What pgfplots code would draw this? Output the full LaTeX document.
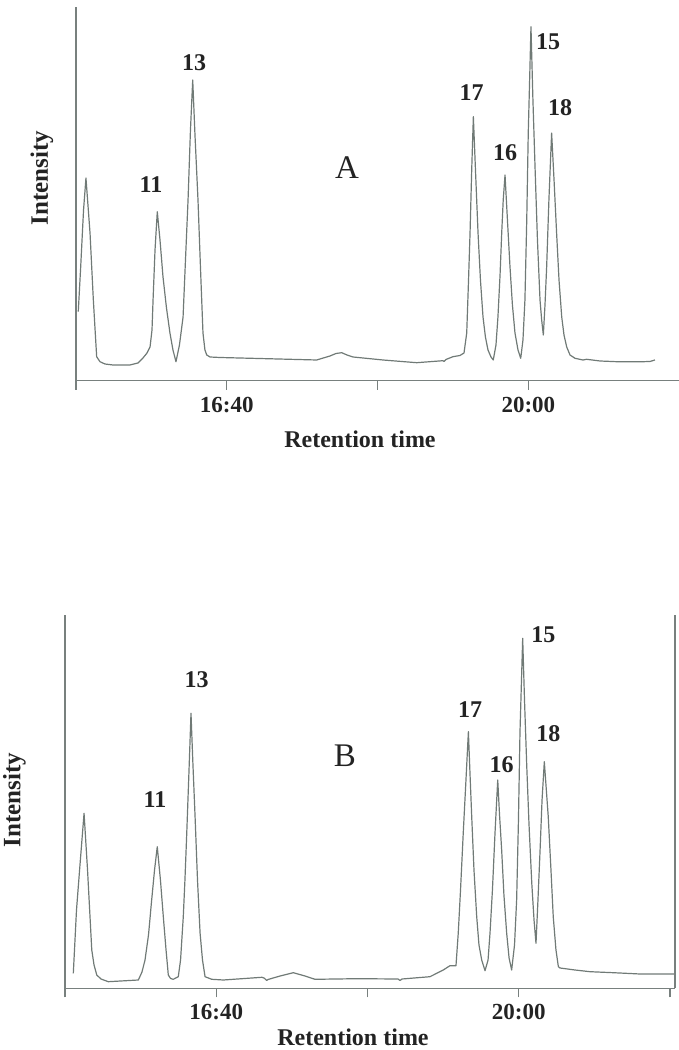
\documentclass[border=0pt]{standalone}
\usepackage{pgfplots}
\pgfplotsset{compat=1.18}
\usepackage{fontspec}
\setmainfont{Liberation Serif}
\definecolor{trace}{RGB}{112,122,118}
\definecolor{axcol}{RGB}{120,128,126}
\definecolor{txt}{RGB}{35,35,35}
\newcommand{\peakfont}{\bfseries\fontsize{12}{14}\selectfont}
\pgfplotsset{
  chrom/.style={
    scale only axis, anchor=south west,
    axis x line=bottom, axis y line=left,
    axis line style={-, draw=axcol, line width=0.6pt},
    ytick=\empty,
    tick align=outside, major tick length=4.5pt,
    every tick/.style={draw=axcol, line width=0.6pt},
    xtick={900,1000,1100,1200,1300},
    xticklabels={,16:40,,20:00,},
    xticklabel style={font=\bfseries\fontsize{11.5}{13}\selectfont, text=txt},
    clip=false,
  }
}
\begin{document}
\begin{tikzpicture}
\path[use as bounding box] (0,0) rectangle (339.5pt,525pt);
% ---------------- Panel A
\begin{axis}[chrom, at={(38pt,334.65pt)}, width=301.6pt, height=186.85pt,
  xmin=900, xmax=1300, ymin=0, ymax=373.7]
\addplot[trace, line width=0.6pt, line join=round] coordinates {
(901.5,69.0)(903.0,110.7)(905.0,170.7)(906.6,202.7)(909.3,147.7)(911.5,80.7)
(913.7,24.0)(915.9,19.0)(919.2,16.7)(924.5,15.7)(935.8,15.7)(941.1,17.7)
(944.4,22.7)(947.1,27.7)(949.1,33.7)(950.4,50.7)(951.1,80.7)(952.4,130.7)
(953.9,169.0)(955.7,140.7)(957.7,103.7)(960.0,72.7)(962.3,47.7)(964.3,30.7)
(966.3,19.0)(968.6,35.7)(971.0,63.7)(972.6,120.7)(974.3,180.7)(975.9,250.7)
(977.4,300.7)(978.9,245.7)(980.9,180.7)(982.6,110.7)(984.2,47.7)(985.5,30.7)
(986.7,25.7)(988.9,23.7)(995.5,23.2)(1026.5,22.0)(1059.6,20.7)(1068.4,24.7)
(1072.4,27.2)(1076.2,28.0)(1079.7,25.7)(1083.7,23.7)(1103.6,20.7)(1125.9,18.0)
(1143.4,20.0)(1144.0,19.2)(1145.3,21.2)(1150.0,24.0)(1154.6,25.2)(1157.3,27.7)
(1159.1,47.7)(1160.3,100.7)(1161.3,147.7)(1162.4,210.7)(1163.5,264.0)
(1164.9,210.7)(1166.6,147.7)(1168.2,100.7)(1169.9,63.7)(1171.5,43.7)
(1173.2,30.7)(1175.2,23.7)(1176.7,20.7)(1178.5,35.7)(1179.8,63.7)(1181.2,105.7)
(1182.3,147.7)(1183.3,180.7)(1184.5,205.7)(1186.1,160.7)(1187.8,113.7)
(1189.4,75.7)(1191.1,47.7)(1193.1,30.7)(1194.9,22.4)(1196.4,40.7)(1197.7,80.7)
(1198.9,160.7)(1199.9,247.7)(1200.9,305.7)(1201.7,354.0)(1203.0,280.7)
(1204.4,213.7)(1206.0,140.7)(1207.7,80.7)(1208.8,60.7)(1209.9,45.7)
(1211.0,75.7)(1212.1,113.7)(1213.6,180.7)(1215.4,247.7)(1217.0,200.7)
(1218.7,147.7)(1220.3,100.7)(1222.1,63.7)(1223.6,45.7)(1225.4,33.7)
(1227.6,25.7)(1230.9,22.4)(1236.2,20.7)(1238.6,21.4)(1247.5,19.7)
(1258.5,19.0)(1276.0,19.0)(1280.6,19.2)(1283.9,20.7)
};
\end{axis}
% ---------------- Panel B
\begin{axis}[chrom, at={(32.5pt,30.85pt)}, width=305pt, height=186.65pt,
  xmin=900, xmax=1303.3, ymin=0, ymax=373.3]
\addplot[trace, line width=0.6pt, line join=round] coordinates {
(905.5,15.0)(907.6,78.3)(909.9,123.3)(912.6,175.0)(914.9,118.3)(917.7,38.3)
(919.2,23.3)(921.0,13.3)(923.8,9.3)(928.6,6.6)(948.5,8.3)(950.9,16.3)
(952.9,28.3)(955.2,53.3)(957.3,88.3)(959.2,118.3)(961.0,141.6)(963.1,108.3)
(965.0,71.6)(966.8,38.3)(968.3,13.3)(969.8,9.8)(971.6,9.0)(974.9,11.6)
(976.4,28.3)(978.2,71.6)(979.3,108.3)(980.5,155.3)(982.0,218.3)(983.3,275.0)
(984.6,223.3)(986.0,171.6)(987.6,108.3)(989.3,55.3)(990.9,28.3)(992.6,11.6)
(997.0,9.0)(1004.7,8.3)(1030.1,11.0)(1031.6,10.3)(1033.4,7.8)(1034.2,8.8)
(1042.2,12.3)(1050.9,15.6)(1058.7,12.3)(1065.3,9.0)(1092.9,9.6)(1120.2,9.3)
(1121.5,7.8)(1122.8,9.3)(1141.3,11.6)(1150.1,18.3)(1154.5,22.6)(1158.5,22.6)
(1160.0,55.3)(1161.5,98.3)(1163.3,155.3)(1165.1,208.3)(1166.7,256.6)
(1167.8,213.3)(1168.9,171.6)(1170.4,118.3)(1172.2,71.6)(1173.7,43.3)
(1175.5,28.3)(1177.7,17.6)(1179.7,28.3)(1181.0,55.3)(1182.6,98.3)(1184.3,155.3)
(1186.1,208.3)(1187.3,173.3)(1188.7,138.3)(1190.2,93.3)(1192.0,55.3)
(1193.6,30.3)(1195.3,18.3)(1197.2,43.3)(1198.6,88.3)(1199.8,168.3)
(1200.8,255.3)(1202.6,350.0)(1203.8,288.3)(1205.3,221.6)(1206.8,163.3)
(1208.6,105.3)(1210.1,68.3)(1211.4,45.0)(1212.7,88.3)(1214.1,138.3)
(1215.4,188.3)(1216.9,226.6)(1218.0,203.3)(1219.5,171.6)(1221.3,118.3)
(1222.8,71.6)(1224.6,38.3)(1226.2,21.6)(1227.3,20.3)(1237.2,18.3)
(1247.1,16.6)(1262.5,15.6)(1280.2,14.3)(1303.3,14.3)
};
\draw[axcol, line width=0.6pt] (rel axis cs:1,0) -- (rel axis cs:1,1);
\end{axis}
% ---------------- Text (pixel positions of the reference)
\begin{scope}[x=0.5pt, y=-0.5pt, yshift=525pt, every node/.style={text=txt, inner sep=0pt}]
% Panel A
\node[rotate=90, font=\bfseries\fontsize{12.5}{14}\selectfont] at (42,178) {Intensity};
\node[font=\bfseries\fontsize{12}{14}\selectfont] at (360,439) {Retention time};
\node[font=\peakfont] at (151,185) {11};
\node[font=\peakfont] at (194,63) {13};
\node[font=\peakfont] at (471.7,93) {17};
\node[font=\peakfont] at (505,153) {16};
\node[font=\peakfont] at (548,42) {15};
\node[font=\peakfont] at (560,108) {18};
\node[font=\fontsize{16.5}{18}\selectfont] at (347,168) {A};
% Panel B
\node[rotate=90, font=\bfseries\fontsize{12.5}{14}\selectfont] at (14.5,800) {Intensity};
\node[font=\bfseries\fontsize{12}{14}\selectfont] at (353,1037) {Retention time};
\node[font=\peakfont] at (155,800) {11};
\node[font=\peakfont] at (196.7,680) {13};
\node[font=\peakfont] at (470,710) {17};
\node[font=\peakfont] at (501.7,765) {16};
\node[font=\peakfont] at (543.3,635) {15};
\node[font=\peakfont] at (548.3,733.3) {18};
\node[font=\fontsize{16.5}{18}\selectfont] at (345,756) {B};
\end{scope}
\end{tikzpicture}
\end{document}
